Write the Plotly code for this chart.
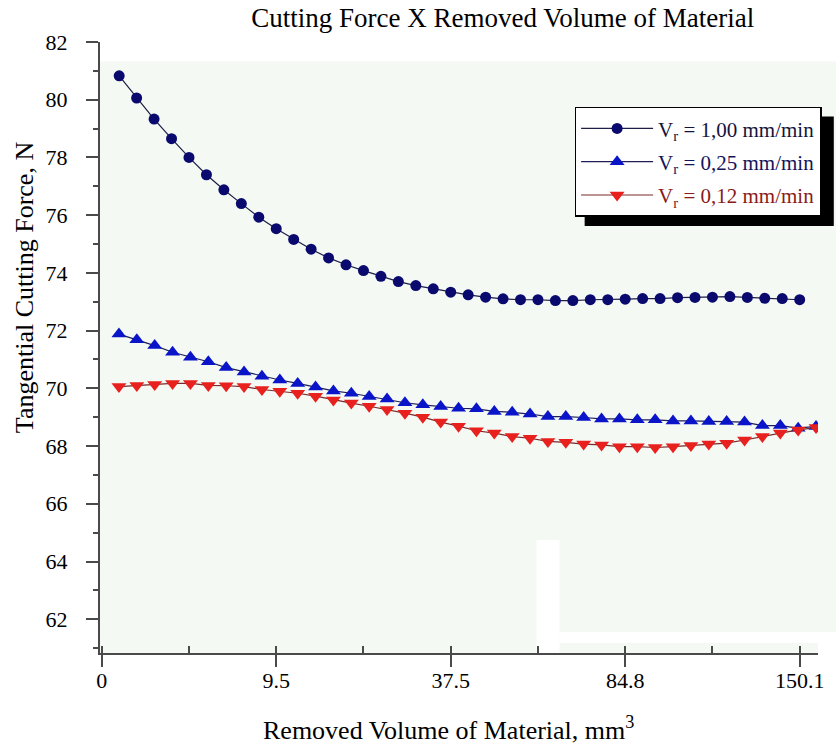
import plotly.graph_objects as go

# ---------------- data ----------------
point_index = list(range(1, 41))

force_vr_100 = [80.83, 80.06, 79.33, 78.65, 78.00, 77.40, 76.88, 76.40, 75.93, 75.53,
                75.16, 74.82, 74.52, 74.28, 74.08, 73.88, 73.70, 73.56, 73.45, 73.33,
                73.24, 73.16, 73.10, 73.07, 73.07, 73.04, 73.04, 73.07, 73.07, 73.09,
                73.11, 73.11, 73.14, 73.15, 73.16, 73.18, 73.15, 73.12, 73.11, 73.07]

force_vr_025 = [71.88, 71.68, 71.48, 71.25, 71.08, 70.92, 70.72, 70.57, 70.42, 70.29,
                70.17, 70.05, 69.91, 69.83, 69.72, 69.63, 69.50, 69.43, 69.37, 69.31,
                69.29, 69.20, 69.17, 69.11, 69.02, 69.02, 68.99, 68.94, 68.94, 68.91,
                68.91, 68.87, 68.87, 68.85, 68.85, 68.83, 68.71, 68.71, 68.62, 68.68]

force_vr_012 = [70.06, 70.10, 70.13, 70.17, 70.17, 70.10, 70.09, 70.06, 69.96, 69.90,
                69.83, 69.73, 69.60, 69.49, 69.38, 69.27, 69.14, 69.00, 68.83, 68.69,
                68.53, 68.45, 68.33, 68.27, 68.16, 68.13, 68.07, 68.04, 67.98, 67.98,
                67.95, 67.98, 68.02, 68.07, 68.10, 68.21, 68.33, 68.45, 68.56, 68.64]

x_tick_pos = [0, 10, 20, 30, 40]
x_tick_text = ["0", "9.5", "37.5", "84.8", "150.1"]

series_names = [
    "<span style='color:#14143c'>V<sub>r</sub> = 1,00 mm/min</span>",
    "<span style='color:#14145a'>V<sub>r</sub> = 0,25 mm/min</span>",
    "<span style='color:#8a1a1a'>V<sub>r</sub> = 0,12 mm/min</span>",
]

SERIF = "Liberation Serif, Times New Roman, serif"
MINT = "#f4f9f4"

fig = go.Figure()
fig.add_trace(go.Scatter(
    x=point_index, y=force_vr_100, name=series_names[0], mode="lines+markers",
    legendgroup="g1",
    line=dict(color="#1e1e46", width=1.2),
    marker=dict(symbol="circle", size=11, color="#0a0a6e"),
))
fig.add_trace(go.Scatter(
    x=point_index, y=force_vr_025, name=series_names[1], mode="lines+markers",
    xaxis="x2", legendgroup="g2",
    line=dict(color="#1e1e5a", width=1.2),
    marker=dict(symbol="triangle-up", size=13, color="#0a14c8"),
))
fig.add_trace(go.Scatter(
    x=point_index, y=force_vr_012, name=series_names[2], mode="lines+markers",
    xaxis="x2", legendgroup="g3",
    line=dict(color="#7a2a2a", width=1.2),
    marker=dict(symbol="triangle-down", size=13, color="#e8201e"),
))

axis_col = "#4a4a4a"

fig.update_layout(
    width=836, height=746,
    margin=dict(l=100, r=16, t=42, b=93),
    paper_bgcolor="white",
    plot_bgcolor=MINT,
    font=dict(family=SERIF, size=22, color="black"),
    title=dict(text="Cutting Force X Removed Volume of Material",
               x=0.561, xref="paper", xanchor="center",
               y=0.977, yref="container", yanchor="middle",
               font=dict(family=SERIF, size=27, color="black")),
    xaxis=dict(
        range=[-0.1, 41.05], tickmode="array", tickvals=x_tick_pos, ticktext=x_tick_text,
        ticks="outside", ticklen=12, tickwidth=1.5, tickcolor=axis_col,
        showline=True, linecolor=axis_col, linewidth=2,
        showgrid=False, zeroline=False,
        ticklabelstandoff=-5,
        tickfont=dict(family=SERIF, size=22, color="black"),
        minor=dict(ticks="inside", tickmode="linear", tick0=0, dtick=5,
                   ticklen=7, tickwidth=1.5, tickcolor=axis_col, showgrid=False),
    ),
    xaxis2=dict(
        overlaying="x", range=[-0.06, 40.11], visible=False,
        showgrid=False, zeroline=False,
    ),
    yaxis=dict(
        range=[60.83, 82], tickmode="linear", tick0=0, dtick=2,
        ticks="outside", ticklen=12, tickwidth=1.5, tickcolor=axis_col,
        showline=True, linecolor=axis_col, linewidth=2,
        showgrid=False, zeroline=False,
        ticklabelstandoff=14,
        tickfont=dict(family=SERIF, size=22, color="black"),
        minor=dict(ticks="outside", tickmode="linear", tick0=0, dtick=1,
                   ticklen=5, tickwidth=1.5, tickcolor=axis_col, showgrid=False),
    ),
    legend=dict(
        x=0.661, y=0.894, xanchor="left", yanchor="top",
        bgcolor="white", bordercolor="black", borderwidth=1.5,
        font=dict(family=SERIF, size=21, color="black"),
        itemwidth=72, tracegroupgap=3,
    ),
    showlegend=True,
    annotations=[
        dict(text="Removed Volume of Material, mm<sup>3</sup>",
             xref="paper", yref="paper", x=0.485, y=-0.123,
             xanchor="center", yanchor="middle", showarrow=False,
             font=dict(family=SERIF, size=26, color="black")),
        dict(text="Tangential Cutting Force, N",
             xref="paper", yref="paper", x=-0.1056, y=0.599,
             xanchor="center", yanchor="middle", showarrow=False, textangle=-90,
             font=dict(family=SERIF, size=26, color="black")),
    ],
    shapes=[
        # scanned-image background artefacts
        dict(type="rect", xref="paper", yref="paper", x0=0, x1=1.0, y0=0.968, y1=1.0,
             fillcolor="white", line=dict(width=0), layer="below"),
        dict(type="rect", xref="paper", yref="paper", x0=1.0, x1=1.03, y0=0.0344, y1=0.968,
             fillcolor=MINT, line=dict(width=0), layer="below"),
        dict(type="rect", xref="paper", yref="paper", x0=0.608, x1=0.640, y0=0.0, y1=0.185,
             fillcolor="white", line=dict(width=0), layer="below"),
        dict(type="rect", xref="paper", yref="paper", x0=0.640, x1=1.03, y0=0.0164, y1=0.0344,
             fillcolor="white", line=dict(width=0), layer="below"),
        # legend drop shadow
        dict(type="rect", xref="paper", yref="paper", x0=0.675, x1=1.022, y0=0.699, y1=0.878,
             fillcolor="black", line=dict(width=0), layer="above"),
    ],
)

fig.write_html("out.html")
